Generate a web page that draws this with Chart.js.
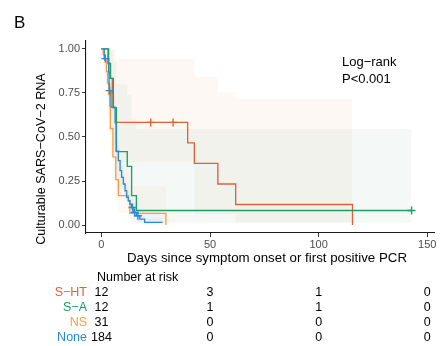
<!DOCTYPE html>
<html>
<head>
<meta charset="utf-8">
<script src="https://cdn.jsdelivr.net/npm/chart.js@4.4.0/dist/chart.umd.min.js"></script>
<style>
  html, body { margin: 0; padding: 0; background: #ffffff; }
  #wrap { width: 440px; height: 346px; position: relative; }
</style>
</head>
<body>
<div id="wrap"><canvas id="km" width="440" height="346"></canvas></div>
<script>
// ---- Kaplan–Meier estimates (time in days, survival after each step) ----
const groups = ['S\u2212HT', 'S\u2212A', 'NS', 'None'];
const groupColors = ['#E0603C', '#1F9E63', '#F4A043', '#2B8AD3'];
// soft tints used for the confidence bands
const bandColors = ['rgba(222,150,100,0.07)', 'rgba(60,150,120,0.055)', 'rgba(244,160,67,0.06)', 'rgba(43,138,211,0.05)'];

// S−HT (n = 12)
const shtTime   = [0, 3, 4, 5, 5.3, 6.8, 39.7, 42.8, 53.6, 61.8, 115.6];
const shtSurv   = [1, 0.917, 0.833, 0.75, 0.667, 0.583, 0.467, 0.35, 0.233, 0.117, 0];
const shtUpper  = [1, 1, 1, 1, 1, 0.943, 0.943, 0.84, 0.754, 0.716, 0.716];
const shtLower  = [1, 0.62, 0.52, 0.44, 0.38, 0.356, 0.356, 0.06, 0.06, 0.015, 0.015];
const shtCensor = [22.7, 33];

// S−A (n = 12)
const saTime   = [0, 3.3, 4.2, 5.5, 6.9, 11.9, 13.9, 16.1, 142.8];
const saSurv   = [1, 0.917, 0.833, 0.667, 0.417, 0.333, 0.167, 0.083, 0.083];
const saUpper  = [1, 1, 0.99, 0.93, 0.8, 0.74, 0.6, 0.545, 0.545];
const saLower  = [1, 0.77, 0.64, 0.45, 0.2, 0.14, 0.05, 0.013, 0.013];
const saCensor = [142.8];

// NS (n = 31)
const nsTime  = [0, 0.8, 1.5, 2.3, 2.8, 3.3, 3.8, 4.1, 5.3, 6.6, 7.8, 12.4, 13.1, 29.7];
const nsSurv  = [1, 0.968, 0.935, 0.871, 0.806, 0.742, 0.677, 0.548, 0.387, 0.258, 0.167, 0.138, 0.066, 0];
const nsUpper = [1, 1, 1, 0.99, 0.96, 0.92, 0.87, 0.75, 0.6, 0.45, 0.34, 0.3, 0.22, 0.22];
const nsLower = [1, 0.9, 0.85, 0.76, 0.67, 0.6, 0.52, 0.39, 0.25, 0.14, 0.07, 0.05, 0.015, 0.015];
const nsCensor = [];

// None (n = 184)
const noneTime  = [0, 1.3, 3.3, 3.5, 3.7, 4.4, 6.3, 6.8, 7.8, 8.6, 9.3, 10.1, 10.9, 11.6, 12.4, 13.1, 13.9, 14.6, 16.1, 17.7, 19.9, 28.2];
const noneSurv  = [1, 0.945, 0.87, 0.8, 0.763, 0.67, 0.58, 0.42, 0.366, 0.309, 0.271, 0.233, 0.195, 0.157, 0.138, 0.119, 0.1, 0.072, 0.053, 0.034, 0.015, 0.015];
const noneUpper = [1, 0.98, 0.92, 0.86, 0.82, 0.74, 0.65, 0.49, 0.44, 0.38, 0.34, 0.3, 0.26, 0.22, 0.2, 0.18, 0.16, 0.12, 0.1, 0.07, 0.04, 0.04];
const noneLower = [1, 0.91, 0.82, 0.74, 0.7, 0.6, 0.51, 0.35, 0.3, 0.25, 0.21, 0.18, 0.14, 0.11, 0.09, 0.075, 0.06, 0.04, 0.025, 0.012, 0.004, 0.004];
const noneCensor = [1.8, 3.8, 14.3, 15.3, 16.8];

// ---- Axes ----
const xTicks = [0, 50, 100, 150];
const yTicks = [0, 0.25, 0.5, 0.75, 1];

// ---- Number-at-risk table ----
const riskTimes = [0, 50, 100, 150];
const riskSHT  = [12, 3, 1, 0];
const riskSA   = [12, 1, 1, 0];
const riskNS   = [31, 0, 0, 0];
const riskNone = [184, 0, 0, 0];
const riskRows = [riskSHT, riskSA, riskNS, riskNone];

const curves = [
  { time: shtTime,  surv: shtSurv,  up: shtUpper,  lo: shtLower,  cens: shtCensor },
  { time: saTime,   surv: saSurv,   up: saUpper,   lo: saLower,   cens: saCensor },
  { time: nsTime,   surv: nsSurv,   up: nsUpper,   lo: nsLower,   cens: nsCensor },
  { time: noneTime, surv: noneSurv, up: noneUpper, lo: noneLower, cens: noneCensor }
];

const FONT = '"Liberation Sans", Arial, Helvetica, sans-serif';
// horizontal-then-vertical steps (value holds until the next event time)
const STEP = 'before';

function pts(t, v) { return t.map((x, i) => ({ x: x, y: v[i] })); }
function survAt(t, s, when) {
  let v = s[0];
  for (let i = 0; i < t.length; i++) { if (t[i] <= when) v = s[i]; }
  return v;
}

const datasets = [];
// confidence bands (drawn underneath)
curves.forEach((c, g) => {
  datasets.push({
    type: 'line', data: pts(c.time, c.up), stepped: STEP,
    borderWidth: 0, borderColor: 'rgba(0,0,0,0)', pointRadius: 0,
    backgroundColor: bandColors[g], fill: '+1', order: 30 - g
  });
  datasets.push({
    type: 'line', data: pts(c.time, c.lo), stepped: STEP,
    borderWidth: 0, borderColor: 'rgba(0,0,0,0)', pointRadius: 0,
    fill: false, order: 30 - g
  });
});
// survival step curves
curves.forEach((c, g) => {
  datasets.push({
    type: 'line', data: pts(c.time, c.surv), stepped: STEP,
    borderColor: groupColors[g], borderWidth: 1.35, pointRadius: 0,
    fill: false, order: 20 - g
  });
});
// censoring marks
curves.forEach((c, g) => {
  datasets.push({
    type: 'scatter',
    data: c.cens.map(x => ({ x: x, y: survAt(c.time, c.surv, x) })),
    pointStyle: 'cross', pointRadius: 4, pointBorderWidth: 1.4,
    borderColor: groupColors[g], backgroundColor: groupColors[g], order: 10 - g
  });
});

const decor = {
  id: 'decor',
  afterDraw(chart) {
    const ctx = chart.ctx;
    const xs = chart.scales.x;
    ctx.save();
    ctx.fillStyle = '#000';
    // panel letter
    ctx.font = `17px ${FONT}`;
    ctx.textAlign = 'left'; ctx.textBaseline = 'alphabetic';
    ctx.fillText('B', 14, 28);
    // y-axis title
    ctx.save();
    ctx.translate(45, 159);
    ctx.rotate(-Math.PI / 2);
    ctx.font = `12.6px ${FONT}`;
    ctx.textAlign = 'center'; ctx.textBaseline = 'alphabetic';
    ctx.fillText('Culturable SARS\u2212CoV\u22122 RNA', 0, 0);
    ctx.restore();
    // x-axis title
    ctx.font = `13.3px ${FONT}`;
    ctx.textAlign = 'center';
    ctx.fillText('Days since symptom onset or first positive PCR', 267, 262);
    // log-rank annotation
    ctx.font = `13px ${FONT}`;
    ctx.textAlign = 'left';
    ctx.fillText('Log\u2212rank', 342, 66);
    ctx.fillText('P<0.001', 342, 83);
    // number at risk
    ctx.font = `12.5px ${FONT}`;
    ctx.fillText('Number at risk', 97, 281);
    const rowY = [296, 311, 326, 341];
    riskRows.forEach((row, r) => {
      ctx.textAlign = 'right';
      ctx.fillStyle = groupColors[r];
      ctx.fillText(groups[r], 87, rowY[r]);
      ctx.fillStyle = '#000';
      ctx.textAlign = 'center';
      row.forEach((n, i) => {
        ctx.fillText(String(n), xs.getPixelForValue(riskTimes[i]), rowY[r]);
      });
    });
    ctx.restore();
  }
};

new Chart(document.getElementById('km'), {
  data: { datasets: datasets },
  options: {
    responsive: false,
    animation: false,
    events: [],
    layout: { padding: { left: 0, top: 41, right: 0, bottom: 83 } },
    plugins: { legend: { display: false }, tooltip: { enabled: false } },
    scales: {
      x: {
        type: 'linear', min: -7.1, max: 153.4,
        afterBuildTicks(s) { s.ticks = xTicks.map(v => ({ value: v })); },
        afterFit(s) { s.height = 30; s.paddingLeft = 0; s.paddingRight = 0; },
        grid: { drawOnChartArea: false, drawTicks: true, tickLength: 4, color: '#333333', lineWidth: 1 },
        border: { display: true, color: '#1a1a1a', width: 1.1 },
        ticks: { color: '#4d4d4d', font: { family: FONT, size: 11 }, padding: 1, maxRotation: 0, autoSkip: false }
      },
      y: {
        type: 'linear', min: -0.045, max: 1.045,
        afterBuildTicks(s) { s.ticks = yTicks.map(v => ({ value: v })); },
        afterFit(s) { s.width = 86; },
        grid: { drawOnChartArea: false, drawTicks: true, tickLength: 4, color: '#333333', lineWidth: 1 },
        border: { display: true, color: '#1a1a1a', width: 1.1 },
        ticks: { color: '#4d4d4d', font: { family: FONT, size: 11 }, padding: 2,
                 callback: v => Number(v).toFixed(2) }
      }
    }
  },
  plugins: [decor]
});
</script>
</body>
</html>
